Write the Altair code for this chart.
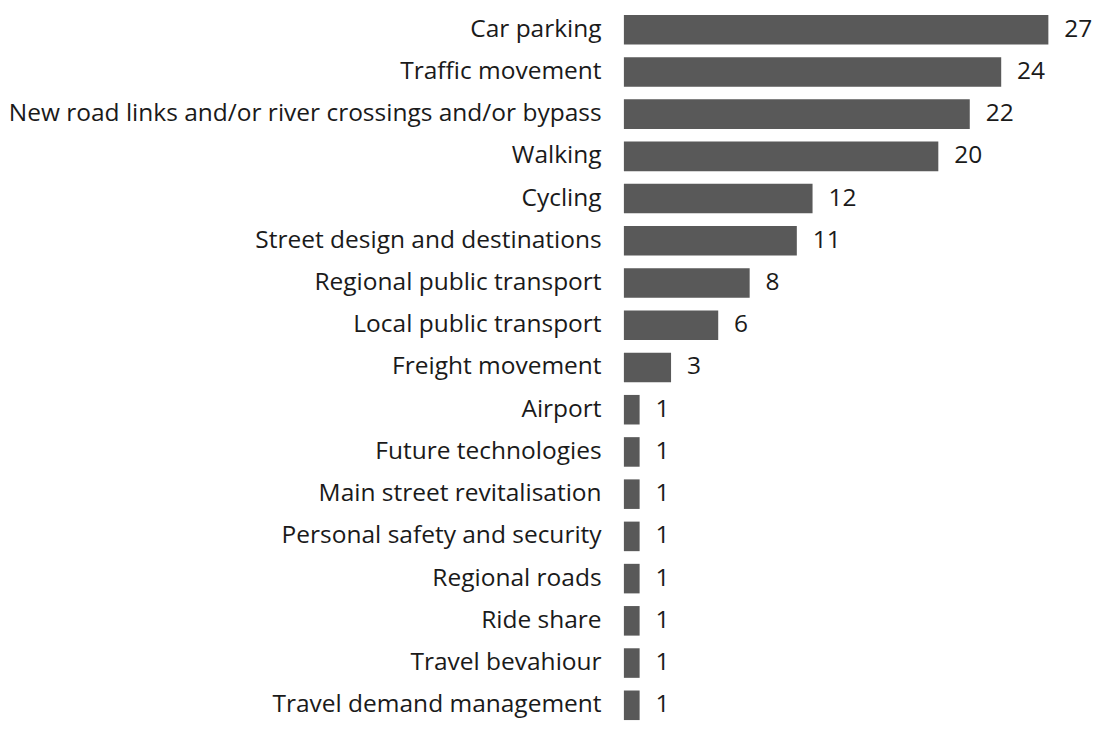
import altair as alt
import pandas as pd

categories = [
    "Car parking",
    "Traffic movement",
    "New road links and/or river crossings and/or bypass",
    "Walking",
    "Cycling",
    "Street design and destinations",
    "Regional public transport",
    "Local public transport",
    "Freight movement",
    "Airport",
    "Future technologies",
    "Main street revitalisation",
    "Personal safety and security",
    "Regional roads",
    "Ride share",
    "Travel bevahiour",
    "Travel demand management",
]
values = [27, 24, 22, 20, 12, 11, 8, 6, 3, 1, 1, 1, 1, 1, 1, 1, 1]

df = pd.DataFrame({"category": categories, "value": values})

FONT = "Open Sans"
FS = 24.7

y = alt.Y(
    "category:N",
    sort=categories,
    scale=alt.Scale(paddingInner=0.3, paddingOuter=0),
    axis=alt.Axis(
        title=None,
        domain=False,
        ticks=False,
        grid=False,
        labelPadding=23,
        labelFontSize=FS,
        labelFont=FONT,
        labelColor="#1a1a1a",
        labelLimit=800,
    ),
)
x = alt.X(
    "value:Q",
    scale=alt.Scale(domain=[0, 27], nice=False),
    axis=None,
)

bars = alt.Chart(df).mark_bar(color="#595959").encode(x=x, y=y)
text = alt.Chart(df).mark_text(
    align="left", baseline="middle", dx=16, fontSize=FS, font=FONT, color="#1a1a1a"
).encode(x=x, y=y, text="value:Q")

chart = (
    alt.layer(bars, text)
    .properties(
        width=428,
        height=716,
        background="white",
        padding={"top": 4, "bottom": 0, "left": 0, "right": 0},
        autosize=alt.AutoSizeParams(type="fit-y", contains="padding"),
    )
    .configure_view(strokeWidth=0, stroke="transparent")
)

chart.save("out.html", embed_options={"renderer": "svg", "actions": False})
